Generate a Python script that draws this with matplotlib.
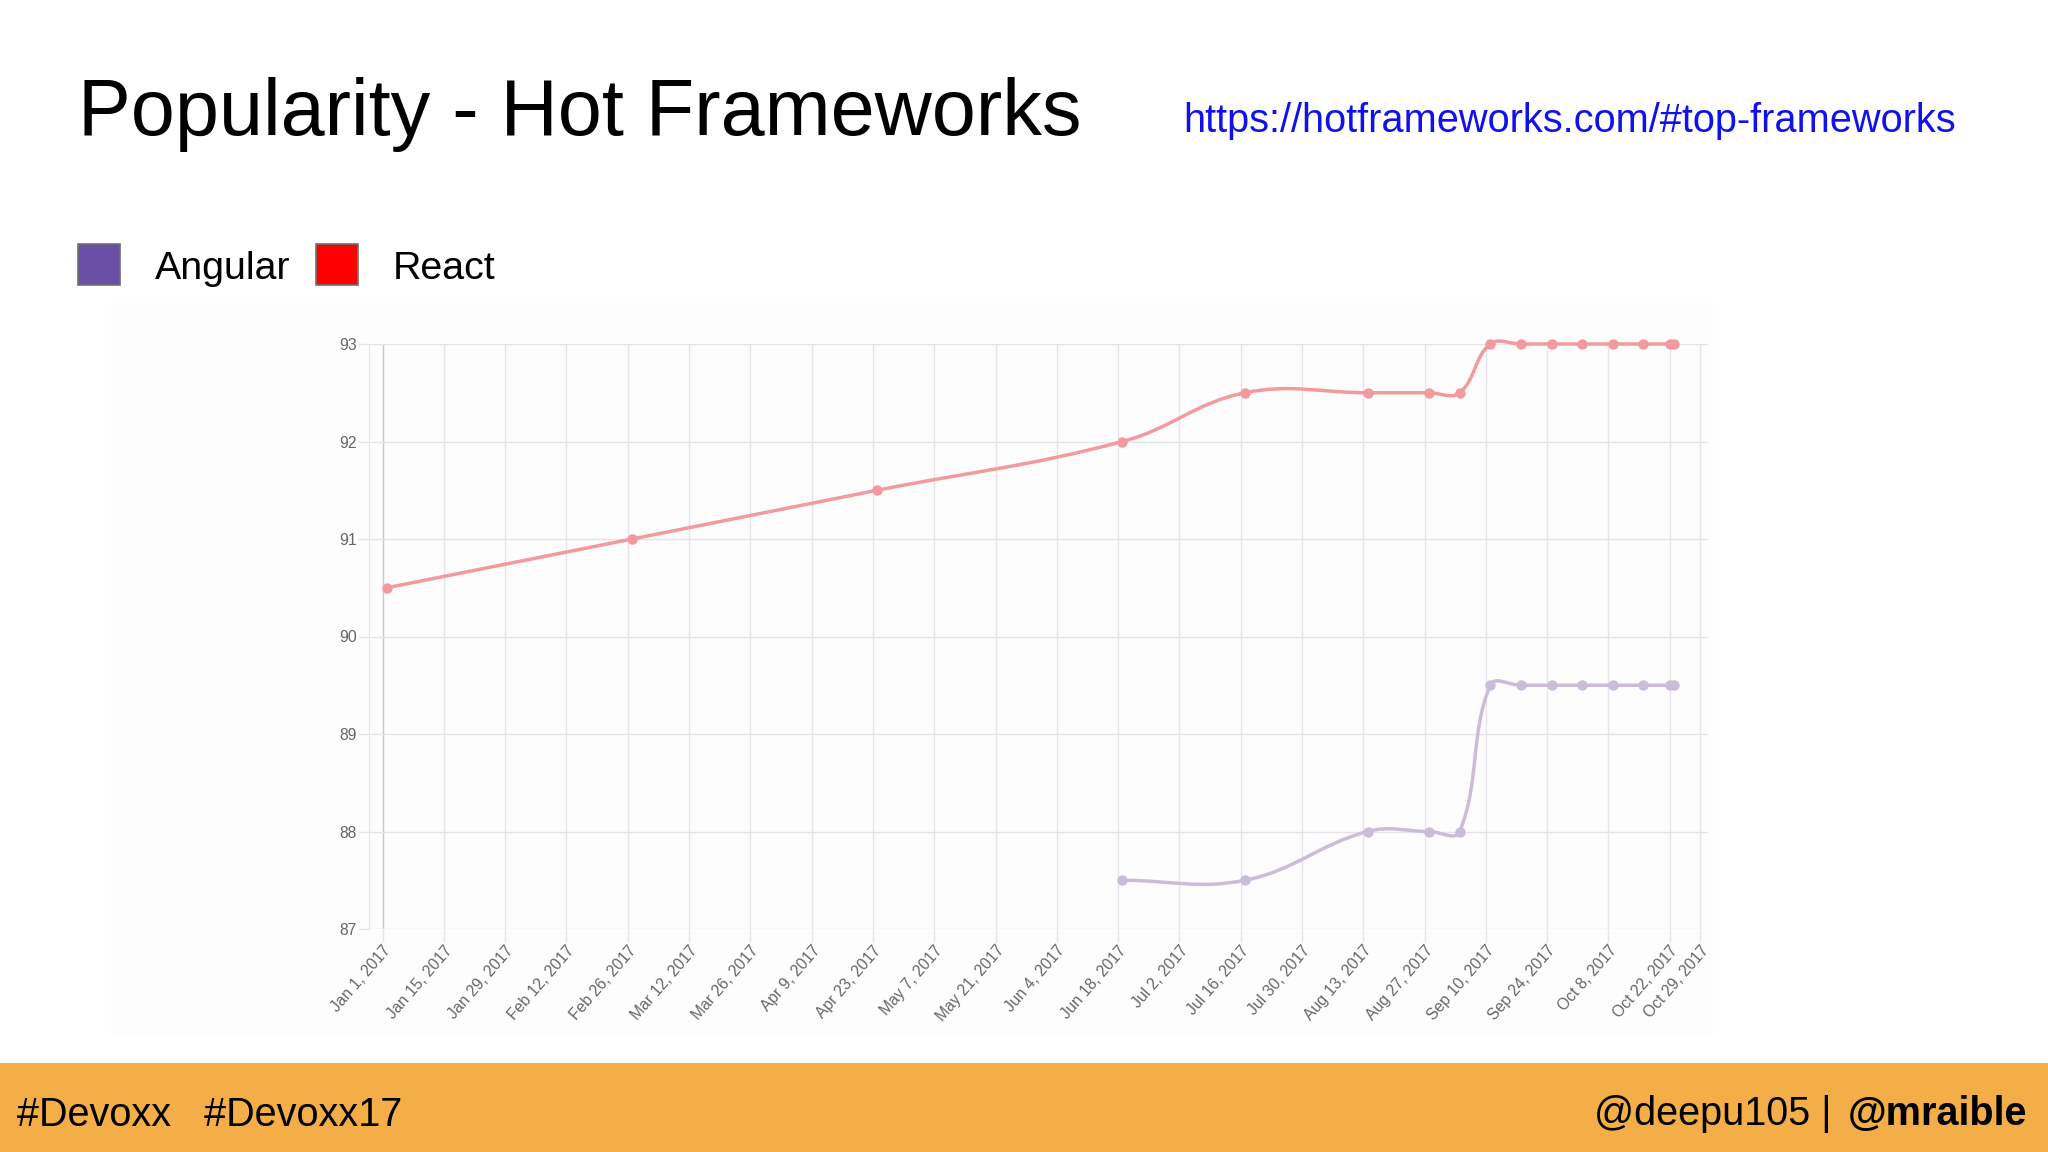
import numpy as np
import matplotlib
matplotlib.use("Agg")
import matplotlib.pyplot as plt
import matplotlib.dates as mdates
from matplotlib.path import Path
from matplotlib.patches import PathPatch, Rectangle

plt.rcParams['font.family'] = ['Liberation Sans', 'DejaVu Sans']

# data (weekly samples, Mondays)
react_dates = ["2017-01-02", "2017-02-27", "2017-04-24", "2017-06-19", "2017-07-17",
               "2017-08-14", "2017-08-28", "2017-09-04", "2017-09-11", "2017-09-18",
               "2017-09-25", "2017-10-02", "2017-10-09", "2017-10-16", "2017-10-22",
               "2017-10-23"]
react_values = [90.5, 91.0, 91.5, 92.0, 92.5, 92.5, 92.5, 92.5, 93.0, 93.0,
                93.0, 93.0, 93.0, 93.0, 93.0, 93.0]

angular_dates = ["2017-06-19", "2017-07-17", "2017-08-14", "2017-08-28", "2017-09-04",
                 "2017-09-11", "2017-09-18", "2017-09-25", "2017-10-02", "2017-10-09",
                 "2017-10-16", "2017-10-22", "2017-10-23"]
angular_values = [87.5, 87.5, 88.0, 88.0, 88.0, 89.5, 89.5, 89.5, 89.5, 89.5,
                  89.5, 89.5, 89.5]

tick_dates = ["2017-01-01", "2017-01-15", "2017-01-29", "2017-02-12", "2017-02-26",
              "2017-03-12", "2017-03-26", "2017-04-09", "2017-04-23", "2017-05-07",
              "2017-05-21", "2017-06-04", "2017-06-18", "2017-07-02", "2017-07-16",
              "2017-07-30", "2017-08-13", "2017-08-27", "2017-09-10", "2017-09-24",
              "2017-10-08", "2017-10-22", "2017-10-29"]
tick_labels = ["Jan 1, 2017", "Jan 15, 2017", "Jan 29, 2017", "Feb 12, 2017", "Feb 26, 2017",
               "Mar 12, 2017", "Mar 26, 2017", "Apr 9, 2017", "Apr 23, 2017", "May 7, 2017",
               "May 21, 2017", "Jun 4, 2017", "Jun 18, 2017", "Jul 2, 2017", "Jul 16, 2017",
               "Jul 30, 2017", "Aug 13, 2017", "Aug 27, 2017", "Sep 10, 2017", "Sep 24, 2017",
               "Oct 8, 2017", "Oct 22, 2017", "Oct 29, 2017"]
y_ticks = [87, 88, 89, 90, 91, 92, 93]

react_color = "#f29a9e"
angular_color = "#cbbcd9"
grid_color = "#e6e4ea"

W, H = 2048, 1152
PX_DAY = 4.378   # pixels per day on the x axis
PX_UNIT = 97.6   # pixels per popularity unit


def smooth_path(xs, ys, tension=0.4):
    # bezier control points like chart.js line tension
    px = np.asarray(xs) * PX_DAY
    py = np.asarray(ys) * PX_UNIT
    n = len(px)
    c_prev, c_next = [], []
    for i in range(n):
        a = i - 1 if i > 0 else i
        b = i + 1 if i < n - 1 else i
        d01 = np.hypot(px[i] - px[a], py[i] - py[a])
        d12 = np.hypot(px[b] - px[i], py[b] - py[i])
        tot = d01 + d12
        s01 = d01 / tot if tot else 0
        s12 = d12 / tot if tot else 0
        dx, dy = px[b] - px[a], py[b] - py[a]
        c_prev.append((px[i] - tension * s01 * dx, py[i] - tension * s01 * dy))
        c_next.append((px[i] + tension * s12 * dx, py[i] + tension * s12 * dy))
    verts = [(px[0], py[0])]
    codes = [Path.MOVETO]
    for i in range(n - 1):
        verts += [c_next[i], c_prev[i + 1], (px[i + 1], py[i + 1])]
        codes += [Path.CURVE4] * 3
    verts = np.array(verts)
    verts[:, 0] /= PX_DAY
    verts[:, 1] /= PX_UNIT
    return Path(verts, codes)


fig = plt.figure(figsize=(W / 100, H / 100), dpi=100)
fig.patch.set_facecolor("white")

# faint background of the chart screenshot
fig.patches.append(Rectangle((111 / W, 1 - 1036 / H), (1713 - 111) / W, (1036 - 303) / H,
                             transform=fig.transFigure, facecolor="#fdfdfe",
                             edgecolor="none", zorder=-2))
# footer bar
fig.patches.append(Rectangle((0, 0), 1, (H - 1063) / H, transform=fig.transFigure,
                             facecolor="#f3ae47", edgecolor="none", zorder=-2))

ax = fig.add_axes([369 / W, 1 - 929 / H, (1708 - 369) / W, (929 - 344) / H])
ax.set_facecolor("none")

x_react = mdates.datestr2num(react_dates)
x_ang = mdates.datestr2num(angular_dates)
x_ticks = mdates.datestr2num(tick_dates)

for xs, ys, col in [(x_ang, angular_values, angular_color), (x_react, react_values, react_color)]:
    ax.add_patch(PathPatch(smooth_path(xs, ys), facecolor="none", edgecolor=col,
                           lw=2.5, capstyle="round", joinstyle="round", zorder=3,
                           clip_on=False))
    ax.plot(xs, ys, "o", ms=6.5, color=col, zorder=4, clip_on=False)

jan1 = x_ticks[0]
ax.set_xlim(jan1 - (382.6 - 369) / PX_DAY, jan1 + (1708 - 382.6) / PX_DAY)
ax.set_ylim(87, 93)

ax.set_xticks(x_ticks)
ax.set_xticklabels(tick_labels, rotation=49, ha="right", va="top", rotation_mode="anchor")
ax.set_yticks(y_ticks)
ax.set_yticklabels([str(v) for v in y_ticks])
ax.tick_params(axis="x", length=9, width=1, color=grid_color, labelsize=11.3,
               labelcolor="#666666", pad=1)
ax.tick_params(axis="y", length=8, width=1, color=grid_color, labelsize=11.3,
               labelcolor="#666666", pad=1)
ax.grid(True, color=grid_color, lw=1)
ax.set_axisbelow(True)
for s in ["top", "right", "bottom"]:
    ax.spines[s].set_visible(False)
ax.spines["left"].set_color(grid_color)
ax.get_xgridlines()[0].set_color("#c8c8cc")
ax.xaxis.get_major_ticks()[0].tick1line.set_color("#c8c8cc")

# slide texts
fig.text(78 / W, 1 - 135 / H, "Popularity - Hot Frameworks", fontsize=57, color="black",
         va="baseline", ha="left")
fig.text(1183 / W, 1 - 132 / H, "https://hotframeworks.com/#top-frameworks", fontsize=28.6,
         color="#1111ee", va="baseline", ha="left")

# legend
fig.patches.append(Rectangle((78 / W, 1 - 285 / H), 42 / W, 41 / H, transform=fig.transFigure,
                             facecolor="#6a4fa6", edgecolor="#707070", lw=1.2, zorder=2))
fig.text(155 / W, 1 - 279 / H, "Angular", fontsize=28.4, va="baseline", ha="left")
fig.patches.append(Rectangle((316 / W, 1 - 285 / H), 42 / W, 41 / H, transform=fig.transFigure,
                             facecolor="#ff0000", edgecolor="#707070", lw=1.2, zorder=2))
fig.text(393 / W, 1 - 279 / H, "React", fontsize=28.4, va="baseline", ha="left")

# footer
fig.text(17 / W, 1 - 1126 / H, "#Devoxx   #Devoxx17", fontsize=28.5, va="baseline", ha="left")
bold = fig.text(2027 / W, 1 - 1125 / H, "@mraible", fontsize=28.5, fontweight="bold",
                va="baseline", ha="right")
fig.canvas.draw()
bb = bold.get_window_extent()
fig.text((bb.x0 - 16) / W, 1 - 1125 / H, "@deepu105 |", fontsize=28.5, va="baseline",
         ha="right")
fig.savefig("out.png", dpi=100)
